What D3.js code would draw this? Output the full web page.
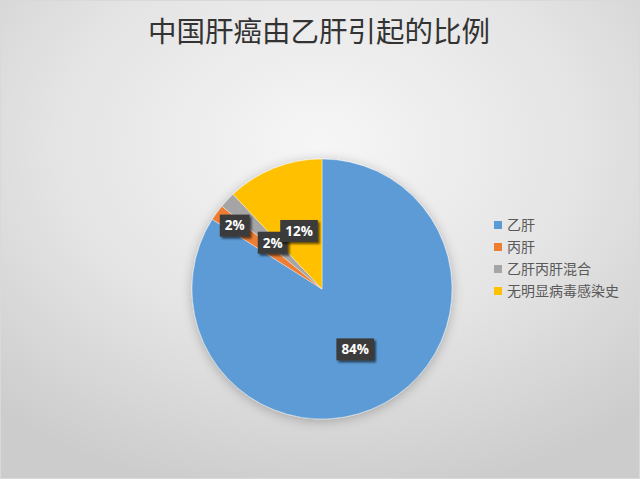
<!DOCTYPE html>
<html>
<head>
<meta charset="utf-8">
<script src="https://cdn.jsdelivr.net/npm/d3@7"></script>
<style>
  body { margin: 0; background: #fff; }
  svg { display: block; }
</style>
</head>
<body>
<div id="chart"></div>
<script>
// data
var categories = ['乙肝', '丙肝', '乙肝丙肝混合', '无明显病毒感染史']
var values = [84, 2, 2, 12]
var colors = ['#5b9bd5', '#ed7d31', '#a5a5a5', '#ffc000']

var width = 640
var height = 479
var cx = 322
var cy = 289
var radius = 130

// how far out (fraction of radius) each data label sits
var labelRadius = [0.53, 0.83, 0.52, 0.48]

var svg = d3.select('#chart').append('svg')
  .attr('width', width)
  .attr('height', height)

var defs = svg.append('defs')

var bg = defs.append('radialGradient')
  .attr('id', 'bg')
  .attr('cx', '50%').attr('cy', '30%').attr('r', '75%')
bg.append('stop').attr('offset', '0%').attr('stop-color', '#f6f6f6')
bg.append('stop').attr('offset', '55%').attr('stop-color', '#e4e4e4')
bg.append('stop').attr('offset', '100%').attr('stop-color', '#cccccc')

var pieShadow = defs.append('filter').attr('id', 'pieShadow')
  .attr('x', '-20%').attr('y', '-20%').attr('width', '140%').attr('height', '140%')
pieShadow.append('feGaussianBlur').attr('in', 'SourceAlpha').attr('stdDeviation', 6)
pieShadow.append('feOffset').attr('dx', 0).attr('dy', 2).attr('result', 'b')
pieShadow.append('feComponentTransfer').append('feFuncA').attr('type', 'linear').attr('slope', 0.25)
var pm = pieShadow.append('feMerge')
pm.append('feMergeNode')
pm.append('feMergeNode').attr('in', 'SourceGraphic')

var boxShadow = defs.append('filter').attr('id', 'boxShadow')
  .attr('x', '-30%').attr('y', '-30%').attr('width', '170%').attr('height', '170%')
boxShadow.append('feGaussianBlur').attr('in', 'SourceAlpha').attr('stdDeviation', 1.2)
boxShadow.append('feOffset').attr('dx', 2).attr('dy', 2).attr('result', 'b')
boxShadow.append('feComponentTransfer').append('feFuncA').attr('type', 'linear').attr('slope', 0.6)
var bm = boxShadow.append('feMerge')
bm.append('feMergeNode')
bm.append('feMergeNode').attr('in', 'SourceGraphic')

svg.append('rect')
  .attr('width', width)
  .attr('height', height)
  .attr('fill', 'url(#bg)')

svg.append('rect')
  .attr('x', 0.5).attr('y', 0.5)
  .attr('width', width - 1).attr('height', height - 1)
  .attr('fill', 'none')
  .attr('stroke', '#d9d9d9')

// title
svg.append('text')
  .attr('x', 319)
  .attr('y', 42)
  .attr('text-anchor', 'middle')
  .attr('font-family', '"Noto Sans CJK SC", sans-serif')
  .attr('font-size', 28.5)
  .attr('fill', '#333333')
  .text('中国肝癌由乙肝引起的比例')

var pie = d3.pie().sort(null).value(d => d.value)
var arc = d3.arc().innerRadius(0).outerRadius(radius)

var data = categories.map((c, i) => ({ name: c, value: values[i], color: colors[i] }))
var arcs = pie(data)

var g = svg.append('g').attr('transform', 'translate(' + cx + ',' + cy + ')')

g.append('g').attr('filter', 'url(#pieShadow)')
  .selectAll('path')
  .data(arcs)
  .join('path')
  .attr('d', arc)
  .attr('fill', d => d.data.color)
  .attr('stroke', '#ffffff')
  .attr('stroke-width', 0.4)

var total = d3.sum(values)

var labels = g.selectAll('g.label')
  .data(arcs)
  .join('g')
  .attr('class', 'label')
  .attr('transform', (d, i) => {
    var r = radius * labelRadius[i]
    var c = d3.arc().innerRadius(r).outerRadius(r).centroid(d)
    return 'translate(' + c[0] + ',' + c[1] + ')'
  })

labels.each(function(d) {
  var sel = d3.select(this)
  var txt = Math.round(d.data.value / total * 100) + '%'
  var t = sel.append('text')
    .attr('text-anchor', 'middle')
    .attr('dy', '0.36em')
    .attr('font-family', '"Open Sans", "DejaVu Sans", sans-serif')
    .attr('font-weight', 'bold')
    .attr('font-size', 13.5)
    .attr('fill', '#ffffff')
    .text(txt)
  var w = t.node().getComputedTextLength() + 10
  var h = 22
  sel.insert('rect', 'text')
    .attr('x', -w / 2)
    .attr('y', -h / 2)
    .attr('width', w)
    .attr('height', h)
    .attr('fill', '#3b3b3b')
    .attr('filter', 'url(#boxShadow)')
})

// legend
var legend = svg.append('g').attr('transform', 'translate(494,225)')
var rows = legend.selectAll('g')
  .data(data)
  .join('g')
  .attr('transform', (d, i) => 'translate(0,' + i * 22 + ')')

rows.append('rect')
  .attr('x', 0)
  .attr('y', -4)
  .attr('width', 8)
  .attr('height', 8)
  .attr('fill', d => d.color)

rows.append('text')
  .attr('x', 13)
  .attr('dy', '0.36em')
  .attr('font-family', '"Noto Sans CJK SC", sans-serif')
  .attr('font-size', 14)
  .attr('fill', '#595959')
  .text(d => d.name)
</script>
</body>
</html>
